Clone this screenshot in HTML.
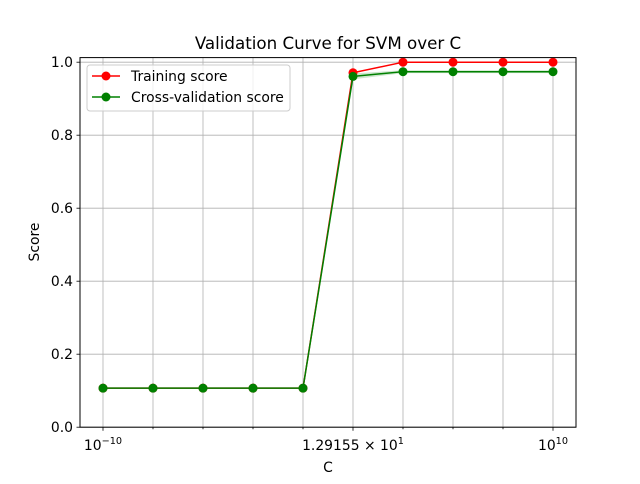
<!DOCTYPE html>
<html><head><meta charset="utf-8"><style>
body{margin:0;background:#fff;font-family:"DejaVu Sans","Liberation Sans",sans-serif}
</style></head><body>
<svg id="chart" width="640" height="480" viewBox="0 0 640 480" xmlns="http://www.w3.org/2000/svg">
<rect width="640" height="480" fill="#fff"/>
<g id="grid"></g>
<g id="bands"></g>
<g id="series"></g>
<rect x="80" y="57.6" width="496" height="369.6" fill="none" stroke="#000" stroke-width="1"/>
<g id="ticks" font-size="13.9" fill="#000"></g>
<text x="328" y="49" text-anchor="middle" font-size="16.7">Validation Curve for SVM over C</text>
<text x="328" y="472" text-anchor="middle" font-size="13.9">C</text>
<text x="0" y="0" transform="translate(39,242) rotate(-90)" text-anchor="middle" font-size="13.9">Score</text>
<g>
<rect x="87" y="65" width="203" height="46" rx="3" fill="#fff" fill-opacity="0.8" stroke="#ccc"/>
<g>
<line x1="92" y1="76" x2="120" y2="76" stroke="red" stroke-width="1.5"/><circle cx="106" cy="76" r="4.5" fill="red"/>
<text x="131" y="81" font-size="13.9">Training score</text></g>
<g>
<line x1="92" y1="97" x2="120" y2="97" stroke="green" stroke-width="1.5"/><circle cx="106" cy="97" r="4.5" fill="green"/>
<text x="131" y="102" font-size="13.9">Cross-validation score</text></g>
</g>
</svg>
<script>
const exponents=[-10,-7.7778,-5.5556,-3.3333,-1.1111,1.1111,3.3333,5.5556,7.7778,10];
const trainScores=[0.107,0.107,0.107,0.107,0.107,0.971,1.0,1.0,1.0,1.0];
const cvScores=[0.107,0.107,0.107,0.107,0.107,0.961,0.974,0.974,0.974,0.974];
const cvStd=[0.0,0.0,0.0,0.0,0.0,0.008,0.004,0.004,0.004,0.004];
const yTicks=[0,0.2,0.4,0.6,0.8,1.0];
const yTickLabels=["0.0","0.2","0.4","0.6","0.8","1.0"];
const xTickLabelIdx=[0,5,9];

const NS="http://www.w3.org/2000/svg";
function X(e){return 103+(e+10)/20*450;}
function Y(v){return 427.2-v*365;}
function mk(t,a,p){const el=document.createElementNS(NS,t);for(const k in a)el.setAttribute(k,a[k]);p.appendChild(el);return el;}
const grid=document.getElementById('grid'),ticks=document.getElementById('ticks'),ser=document.getElementById('series'),bands=document.getElementById('bands');
exponents.forEach((e,i)=>{
  const g=mk('line',{x1:X(e),x2:X(e),y1:57.6,y2:427.2,stroke:'#b0b0b0','stroke-width':0.8},grid);
  
  
  const t=mk('line',{x1:X(e),x2:X(e),y1:427.2,y2:xTickLabelIdx.includes(i)?430.7:429.2,stroke:'#000','stroke-width':0.8},ticks);
  
  
});
yTicks.forEach((v,i)=>{
  const g=mk('line',{x1:80,x2:576,y1:Y(v),y2:Y(v),stroke:'#b0b0b0','stroke-width':0.8},grid);
  
  
  mk('line',{x1:76.5,x2:80,y1:Y(v),y2:Y(v),stroke:'#000','stroke-width':0.8},ticks);
  const l=mk('text',{x:73,y:Y(v)+5,'text-anchor':'end'},ticks);l.textContent=yTickLabels[i];
  
  
});
function xlab(i,html){const e=exponents[i];const t=mk('text',{x:X(e),y:450,'text-anchor':'middle'},ticks);t.innerHTML=html;
  
  }
xlab(0,'10<tspan dy="-6" font-size="9.7">−10</tspan>');
xlab(5,'1.29155<tspan> × </tspan>10<tspan dy="-6" font-size="9.7">1</tspan>');
xlab(9,'10<tspan dy="-6" font-size="9.7">10</tspan>');
let up=exponents.map((e,i)=>X(e)+','+Y(cvScores[i]+cvStd[i]));
let dn=exponents.map((e,i)=>X(e)+','+Y(cvScores[i]-cvStd[i])).reverse();
const b=mk('polygon',{points:up.concat(dn).join(' '),fill:'green','fill-opacity':0.2},bands);


function series(vals,color,name){
  const pl=mk('polyline',{points:exponents.map((e,i)=>X(e)+','+Y(vals[i])).join(' '),fill:'none',stroke:color,'stroke-width':1.5},ser);
  
  
  exponents.forEach((e,i)=>{const c=mk('circle',{cx:X(e),cy:Y(vals[i]),r:4.5,fill:color},ser);
    
    });
}
series(trainScores,'red','training-score');
series(cvScores,'green','cv-score');
</script>
</body></html>
